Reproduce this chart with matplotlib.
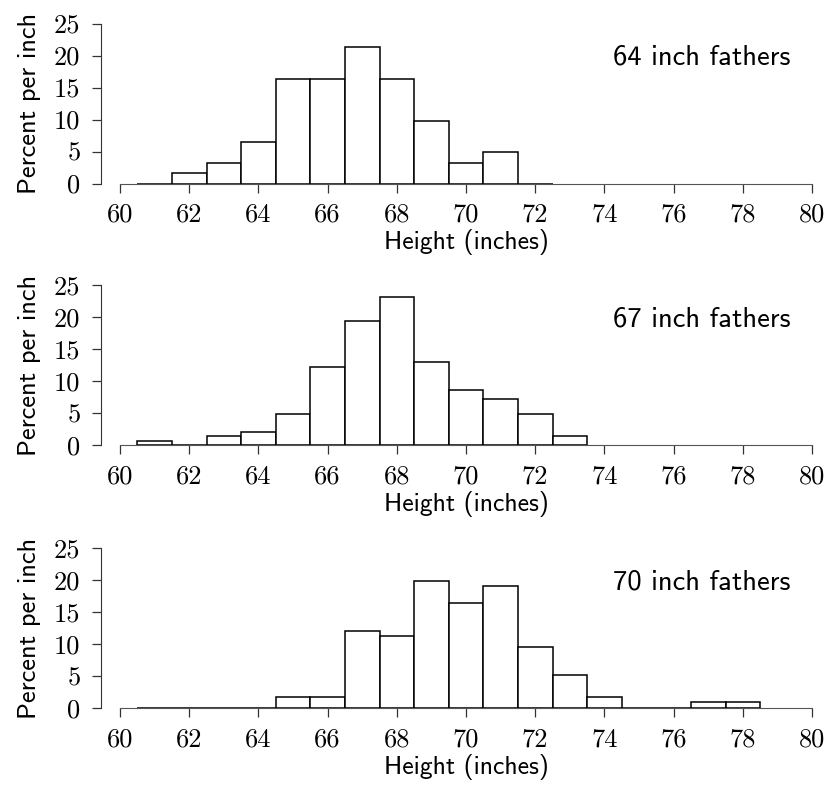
import numpy as np
import matplotlib.pyplot as plt

# percent per inch, one-inch bins starting at 60.5
bin_start = 60.5
fathers = ['64 inch fathers', '67 inch fathers', '70 inch fathers']
p64 = [0, 1.64, 3.28, 6.56, 16.39, 16.39, 21.31, 16.39, 9.84, 3.28, 4.92, 0]
p67 = [0.7, 0, 1.41, 2.13, 4.96, 12.3, 19.5, 23.2, 13.0, 8.7, 7.2, 4.96, 1.41]
p70 = [0, 0, 0, 0, 1.77, 1.77, 12.1, 11.2, 19.9, 16.4, 19.0, 9.5, 5.2, 1.77, 0, 0, 0.88, 0.88]
xticks = list(range(60, 81, 2))
yticks = [0, 5, 10, 15, 20, 25]

fig = plt.figure(figsize=(8.27, 7.85), dpi=100)
bottoms = [0.7662, 0.4327, 0.0981]
serif = 'cmr10'
sans = 'cmss10'

for b, label, vals in zip(bottoms, fathers, [p64, p67, p70]):
    ax = fig.add_axes([0.1451, b, 0.8368, 0.2038])
    # move the y spine first: set_position resets the ticks
    ax.spines['left'].set_position(('outward', 14))
    for s in ['top', 'right']:
        ax.spines[s].set_visible(False)
    centers = bin_start + 0.5 + np.arange(len(vals))
    ax.bar(centers, vals, width=1.0, color='white', edgecolor='black', linewidth=1.1)
    ax.set_xlim(60, 80)
    ax.set_ylim(0, 25)
    ax.set_xticks(xticks)
    ax.set_yticks(yticks)
    ax.set_xticklabels([str(t) for t in xticks], fontfamily=serif, fontsize=19)
    ax.set_yticklabels([str(t) for t in yticks], fontfamily=serif, fontsize=19)
    ax.spines['left'].set_color('#333333')
    ax.spines['bottom'].set_color('#555555')
    ax.tick_params(length=6.5, width=0.9, color='#333333')
    ax.tick_params(axis='x', pad=7.5)
    ax.tick_params(axis='y', pad=8)
    ax.set_xlabel('Height (inches)', fontfamily=sans, fontsize=18.5, labelpad=2)
    ax.set_ylabel('Percent per inch', fontfamily=sans, fontsize=19, labelpad=9)
    ax.text(76.8, 19.7, label, ha='center', va='center', fontfamily=sans, fontsize=20.5)

plt.savefig('out.png', dpi=100)
